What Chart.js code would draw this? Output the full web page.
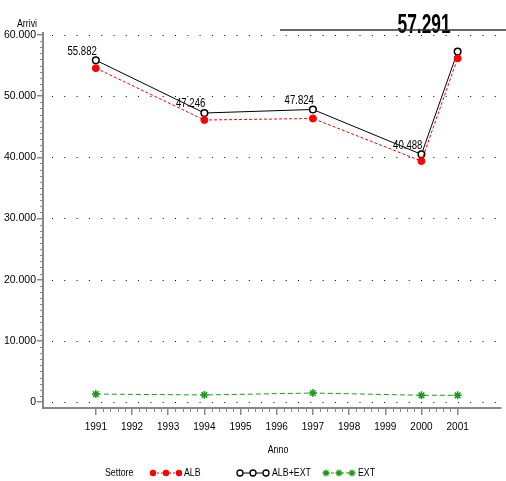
<!DOCTYPE html>
<html>
<head>
<meta charset="utf-8">
<script src="https://cdn.jsdelivr.net/npm/chart.js@4.4.1/dist/chart.umd.min.js"></script>
<style>
  html, body { margin: 0; padding: 0; background: #fff; }
  canvas { display: block; }
</style>
</head>
<body>
<canvas id="chart" width="506" height="481"></canvas>
<script>
// data
const years = [1991, 1994, 1997, 2000, 2001];
const tickYears = [1991, 1992, 1993, 1994, 1995, 1996, 1997, 1998, 1999, 2000, 2001];
const albExt = [55882, 47246, 47824, 40488, 57291];
const ext = [1300, 1150, 1470, 1100, 1100];
const alb = [54580, 46100, 46350, 39390, 56190];
const yTicks = [0, 10000, 20000, 30000, 40000, 50000, 60000];

const FONT = "'Liberation Sans', Arial, sans-serif";
const GREEN = '#1c9a1c';

function fmt(v) {
  return String(v).replace(/\B(?=(\d{3})+(?!\d))/g, '.');
}

function pts(vals) {
  return years.map((y, i) => ({ x: y, y: vals[i] }));
}

// condensed text: draw squeezed horizontally
function txt(ctx, s, x, y, font, align, sx) {
  ctx.save();
  ctx.translate(x, y);
  ctx.scale(sx, 1);
  ctx.font = font;
  ctx.textAlign = align;
  ctx.fillText(s, 0, 0);
  ctx.restore();
}

// dotted grid, minor ticks, labels, legend
const extras = {
  id: 'extras',
  beforeDatasetsDraw(chart) {
    const { ctx, chartArea, scales } = chart;
    const xs = scales.x, ys = scales.y;
    ctx.save();
    // dotted horizontal grid
    ctx.strokeStyle = '#000';
    ctx.lineWidth = 1;
    ctx.setLineDash([1, 11.3]);
    yTicks.forEach(v => {
      const py = Math.round(ys.getPixelForValue(v)) + 0.5;
      ctx.beginPath();
      ctx.moveTo(chartArea.left + 9, py);
      ctx.lineTo(chartArea.right, py);
      ctx.stroke();
    });
    ctx.setLineDash([]);
    // minor ticks y
    ctx.strokeStyle = '#888';
    ctx.lineWidth = 1;
    for (let v = 0; v <= 60000; v += 1000) {
      if (v % 10000 === 0) continue;
      const py = Math.round(ys.getPixelForValue(v)) + 0.5;
      ctx.beginPath();
      ctx.moveTo(chartArea.left - 3, py);
      ctx.lineTo(chartArea.left, py);
      ctx.stroke();
    }
    // minor ticks x
    for (let y = 1991; y < 2001; y++) {
      for (let k = 1; k < 5; k++) {
        const px = Math.round(xs.getPixelForValue(y + k / 5)) + 0.5;
        ctx.beginPath();
        ctx.moveTo(px, chartArea.bottom);
        ctx.lineTo(px, chartArea.bottom + 4);
        ctx.stroke();
      }
    }
    ctx.restore();
  },
  afterDatasetsDraw(chart) {
    const { ctx } = chart;
    const meta = chart.getDatasetMeta(1);
    ctx.save();
    ctx.fillStyle = '#000';
    ctx.textBaseline = 'bottom';
    // point labels of ALB+EXT
    meta.data.forEach((p, i) => {
      if (i === albExt.length - 1) return;
      txt(ctx, fmt(albExt[i]), p.x + 1, p.y - 3, '12px ' + FONT, 'right', 0.8);
    });
    // last label: big bold
    const last = meta.data[albExt.length - 1];
    txt(ctx, fmt(albExt[albExt.length - 1]), last.x - 7, last.y - 12, 'bold 28px ' + FONT, 'right', 0.62);
    // short top rule
    ctx.strokeStyle = '#333';
    ctx.lineWidth = 1.5;
    ctx.beginPath();
    ctx.moveTo(280, 30);
    ctx.lineTo(506, 30);
    ctx.stroke();
    // axis titles
    ctx.textBaseline = 'middle';
    txt(ctx, 'Arrivi', 27, 24, '11px ' + FONT, 'center', 0.8);
    txt(ctx, 'Anno', 278, 450, '11px ' + FONT, 'center', 0.8);
    // legend
    const ly = 473;
    txt(ctx, 'Settore', 105, ly, '11px ' + FONT, 'left', 0.8);
    function legendItem(x0, color, dash, drawMark, label, tx) {
      ctx.save();
      ctx.strokeStyle = color;
      ctx.lineWidth = 1;
      ctx.setLineDash(dash);
      ctx.beginPath();
      ctx.moveTo(x0, ly);
      ctx.lineTo(x0 + 26, ly);
      ctx.stroke();
      ctx.setLineDash([]);
      [0, 13, 26].forEach(d => drawMark(x0 + d, ly));
      ctx.restore();
      ctx.fillStyle = '#000';
      txt(ctx, label, tx, ly, '11px ' + FONT, 'left', 0.8);
    }
    legendItem(153, '#ff0000', [2, 2], (x, y) => {
      ctx.fillStyle = '#ff0000';
      ctx.beginPath(); ctx.arc(x, y, 3.2, 0, Math.PI * 2); ctx.fill();
    }, 'ALB', 184);
    legendItem(240, '#000', [], (x, y) => {
      ctx.fillStyle = '#fff'; ctx.strokeStyle = '#000'; ctx.lineWidth = 1.3;
      ctx.beginPath(); ctx.arc(x, y, 3, 0, Math.PI * 2); ctx.fill(); ctx.stroke();
    }, 'ALB+EXT', 272);
    legendItem(326, GREEN, [3, 2], (x, y) => {
      ctx.strokeStyle = GREEN; ctx.lineWidth = 1.3;
      ctx.beginPath();
      for (let a = 0; a < 4; a++) {
        const ang = a * Math.PI / 4;
        ctx.moveTo(x - 3.5 * Math.cos(ang), y - 3.5 * Math.sin(ang));
        ctx.lineTo(x + 3.5 * Math.cos(ang), y + 3.5 * Math.sin(ang));
      }
      ctx.stroke();
    }, 'EXT', 358);
    ctx.restore();
  }
};

new Chart(document.getElementById('chart'), {
  type: 'line',
  data: {
    datasets: [
      {
        label: 'ALB',
        data: pts(alb),
        borderColor: '#ff0000',
        backgroundColor: '#ff0000',
        borderWidth: 1,
        borderDash: [3, 2],
        pointStyle: 'circle',
        pointRadius: 3.5,
        pointBorderWidth: 1,
        tension: 0
      },
      {
        label: 'ALB+EXT',
        data: pts(albExt),
        borderColor: '#000',
        backgroundColor: '#fff',
        borderWidth: 1,
        pointStyle: 'circle',
        pointRadius: 3.3,
        pointBorderWidth: 1.5,
        tension: 0
      },
      {
        label: 'EXT',
        data: pts(ext),
        borderColor: GREEN,
        backgroundColor: GREEN,
        borderWidth: 1,
        borderDash: [5, 3],
        pointStyle: 'star',
        pointRadius: 4,
        pointBorderWidth: 1.5,
        tension: 0
      }
    ]
  },
  options: {
    responsive: false,
    animation: false,
    layout: { padding: { left: 0, right: 4, top: 33, bottom: 0 } },
    plugins: {
      legend: { display: false },
      tooltip: { enabled: false }
    },
    scales: {
      x: {
        type: 'linear',
        min: 1989.54,
        max: 2002.185,
        afterBuildTicks: s => { s.ticks = tickYears.map(v => ({ value: v })); },
        afterFit: s => { s.height = 73; },
        ticks: {
          callback: v => String(v),
          color: '#000',
          font: { family: FONT, size: 10 },
          padding: 6,
          maxRotation: 0,
          autoSkip: false
        },
        grid: { drawOnChartArea: false, drawTicks: true, tickLength: 7, color: '#888', lineWidth: 1.5 },
        border: { display: true, color: '#888', width: 2 }
      },
      y: {
        min: -981,
        max: 60327,
        afterBuildTicks: s => { s.ticks = yTicks.map(v => ({ value: v })); },
        afterFit: s => { s.width = 43; },
        ticks: {
          callback: v => fmt(v),
          color: '#000',
          font: { family: FONT, size: 10.5 },
          padding: 1
        },
        grid: { drawOnChartArea: false, drawTicks: true, tickLength: 6, color: '#888', lineWidth: 1.5 },
        border: { display: true, color: '#888', width: 2 }
      }
    }
  },
  plugins: [extras]
});
</script>
</body>
</html>
